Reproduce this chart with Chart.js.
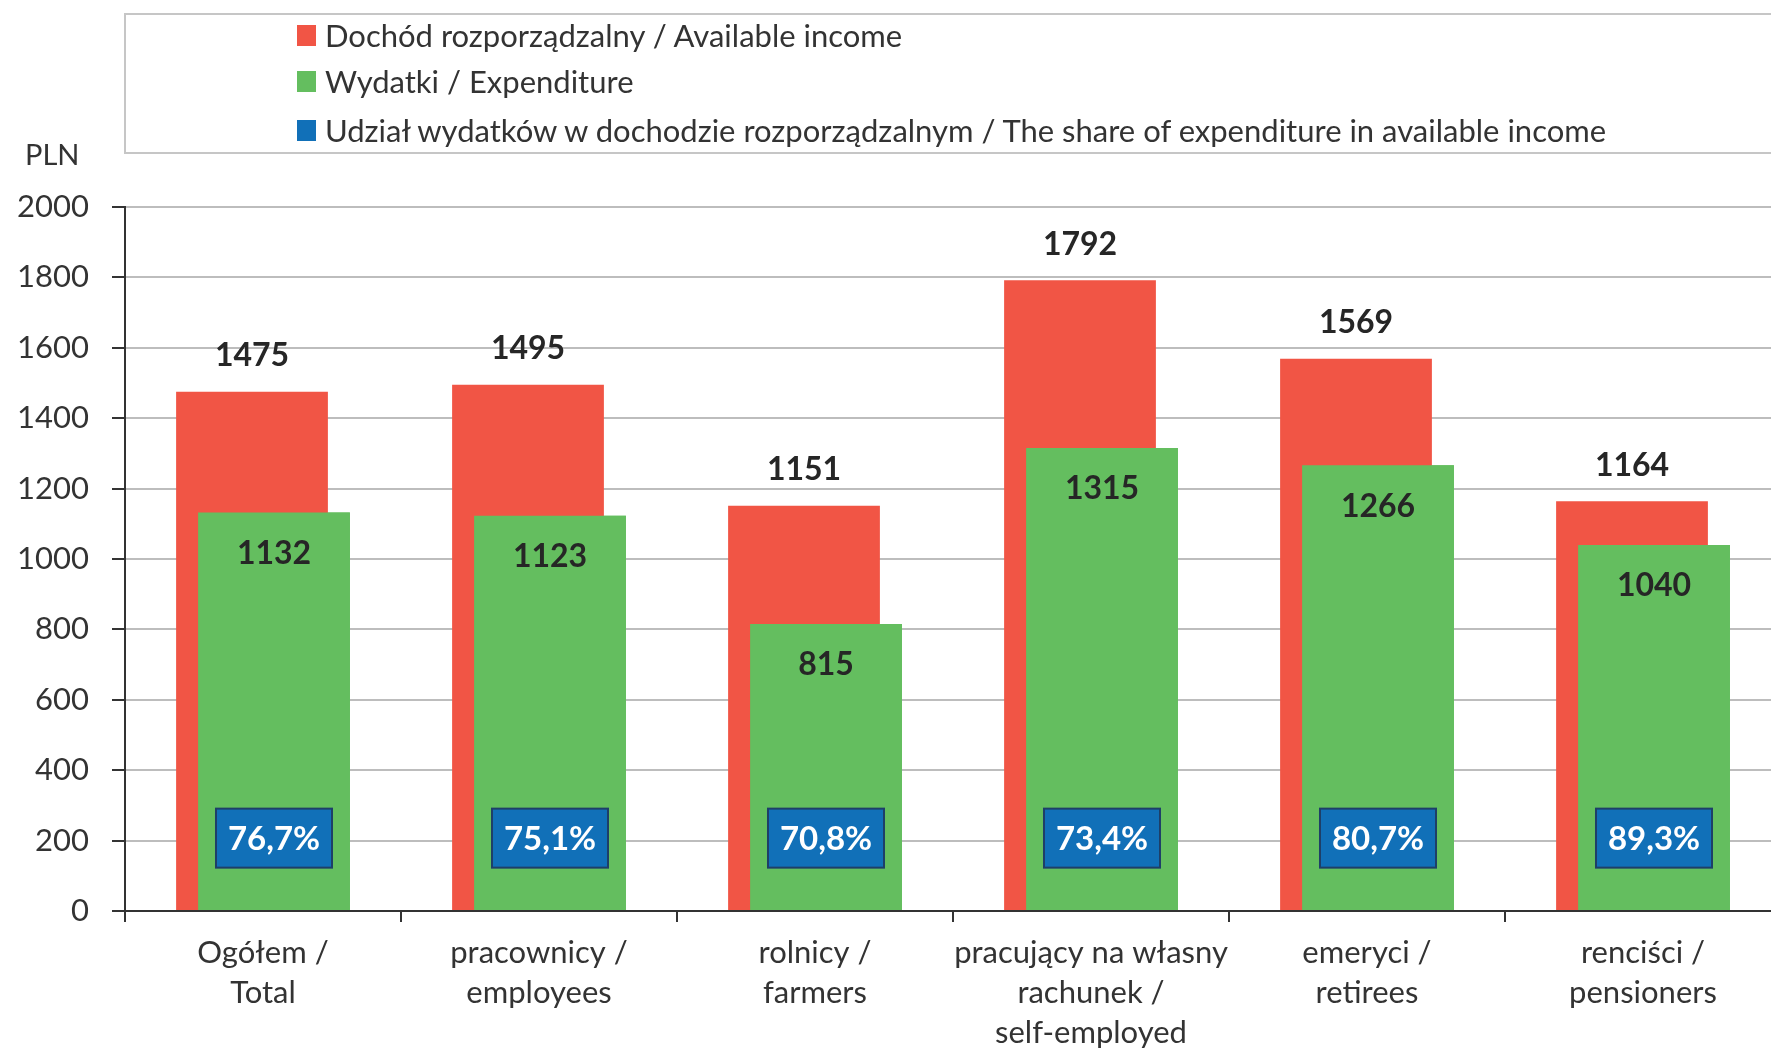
<!DOCTYPE html>
<html lang="pl">
<head>
<meta charset="utf-8">
<title>Dochód rozporządzalny i wydatki</title>
<script src="https://cdn.jsdelivr.net/npm/chart.js@4.4.1/dist/chart.umd.min.js"></script>
<style>
  html, body { margin: 0; padding: 0; background: #fff; overflow: hidden; }
  #wrap { position: relative; width: 1800px; height: 1052px; }
  #legend {
    position: absolute; left: 124px; top: 13px; width: 1700px; height: 141px;
    border: 2px solid #c6c6c6; box-sizing: border-box;
    font-family: Lato, sans-serif; font-size: 31px; color: #333;
  }
  .row { position: absolute; left: 171px; height: 34px; line-height: 34px; display: flex; align-items: center; white-space: nowrap; }
  .sw { width: 19px; height: 21px; margin-right: 9px; }
  #unit { position: absolute; left: 25px; top: 137px; font-family: Lato, sans-serif; font-size: 29px; line-height: 34px; color: #333; }
</style>
</head>
<body>
<div id="wrap">
  <canvas id="chart" width="1800" height="1052"></canvas>
  <div id="legend"></div>
  <div id="unit">PLN</div>
</div>
<script>
// --- data ---
const categories = [
    ['Ogółem /', 'Total'],
    ['pracownicy /', 'employees'],
    ['rolnicy /', 'farmers'],
    ['pracujący na własny', 'rachunek /', 'self-employed'],
    ['emeryci /', 'retirees'],
    ['renciści /', 'pensioners']
];
const income = [1475, 1495, 1151, 1792, 1569, 1164];
const expenditure = [1132, 1123, 815, 1315, 1266, 1040];
const share = [76.7, 75.1, 70.8, 73.4, 80.7, 89.3];
const yTicks = [0, 200, 400, 600, 800, 1000, 1200, 1400, 1600, 1800, 2000];

const legendLabels = [
    'Dochód rozporządzalny / Available income',
    'Wydatki / Expenditure',
    'Udział wydatków w dochodzie rozporządzalnym / The share of expenditure in available income'
];

const RED = '#F15545';
const GREEN = '#64BE5F';
const BLUE = '#1170B8';
const SHARE_LEVEL = 207; // value on the PLN axis where the share boxes sit

// --- legend (html box) ---
const legendEl = document.getElementById('legend');
const rowTops = [3, 49, 98];
[RED, GREEN, BLUE].forEach((c, i) => {
    const row = document.createElement('div');
    row.className = 'row';
    row.style.top = rowTops[i] + 'px';
    row.innerHTML = '<span class="sw" style="background:' + c + '"></span><span></span>';
    row.lastChild.textContent = legendLabels[i];
    legendEl.appendChild(row);
});

// --- green bars on top of red ones, then the labels ---
const barLabels = {
    id: 'barLabels',
    afterDatasetsDraw(chart) {
        const ctx = chart.ctx;
        const redMeta = chart.getDatasetMeta(0);
        const greenMeta = chart.getDatasetMeta(1);
        greenMeta.controller.draw(); // expenditure bar overlaps the income bar

        const yScale = chart.scales.y;
        ctx.save();
        ctx.textAlign = 'center';
        ctx.textBaseline = 'middle';
        ctx.font = 'bold 32px Lato';
        ctx.fillStyle = '#262626';
        redMeta.data.forEach((bar, i) => {
            ctx.fillText(income[i], bar.x, bar.y - 36);
        });
        greenMeta.data.forEach((bar, i) => {
            ctx.fillText(expenditure[i], bar.x, bar.y + 41);
        });
        const by = yScale.getPixelForValue(SHARE_LEVEL);
        ctx.font = 'bold 33px Lato';
        greenMeta.data.forEach((bar, i) => {
            const w = 116, h = 59;
            ctx.fillStyle = BLUE;
            ctx.fillRect(bar.x - w / 2, by - h / 2, w, h);
            ctx.strokeStyle = '#1E3F68';
            ctx.lineWidth = 2;
            ctx.strokeRect(bar.x - w / 2, by - h / 2, w, h);
            ctx.fillStyle = '#fff';
            ctx.fillText(share[i].toFixed(1).replace('.', ',') + '%', bar.x, by + 1);
        });
        ctx.restore();
    }
};

new Chart(document.getElementById('chart'), {
    type: 'bar',
    data: {
        labels: categories,
        datasets: [
            { label: 'Dochód rozporządzalny', data: income, backgroundColor: RED },
            { label: 'Wydatki', data: expenditure, backgroundColor: GREEN }
        ]
    },
    options: {
        responsive: false,
        devicePixelRatio: 1,
        animation: false,
        events: [],
        categoryPercentage: 0.1594,
        barPercentage: 6.9,
        layout: { padding: { top: 207, right: 19, bottom: 0, left: 0 } },
        plugins: {
            legend: { display: false },
            tooltip: { enabled: false }
        },
        scales: {
            x: {
                type: 'category',
                offset: true,
                grid: { display: true, drawOnChartArea: false, offset: true, tickLength: 11, color: '#333', lineWidth: 2 },
                border: { color: '#333', width: 2 },
                ticks: {
                    color: '#333', padding: 11, maxRotation: 0, autoSkip: false,
                    font: { family: 'Lato', size: 31, lineHeight: 1.29 }
                },
                afterFit: s => { s.height = 141; }
            },
            y: {
                min: 0,
                max: 2000,
                afterBuildTicks: s => { s.ticks = yTicks.map(v => ({ value: v })); },
                ticks: {
                    color: '#333', padding: 23, font: { family: 'Lato', size: 31 },
                    callback: v => String(v)
                },
                grid: { color: '#bdbdbd', lineWidth: 2, tickLength: 13, tickColor: '#333' },
                border: { color: '#333', width: 2 },
                afterFit: s => { s.width = 125; }
            }
        }
    },
    plugins: [barLabels]
});
</script>
</body>
</html>
